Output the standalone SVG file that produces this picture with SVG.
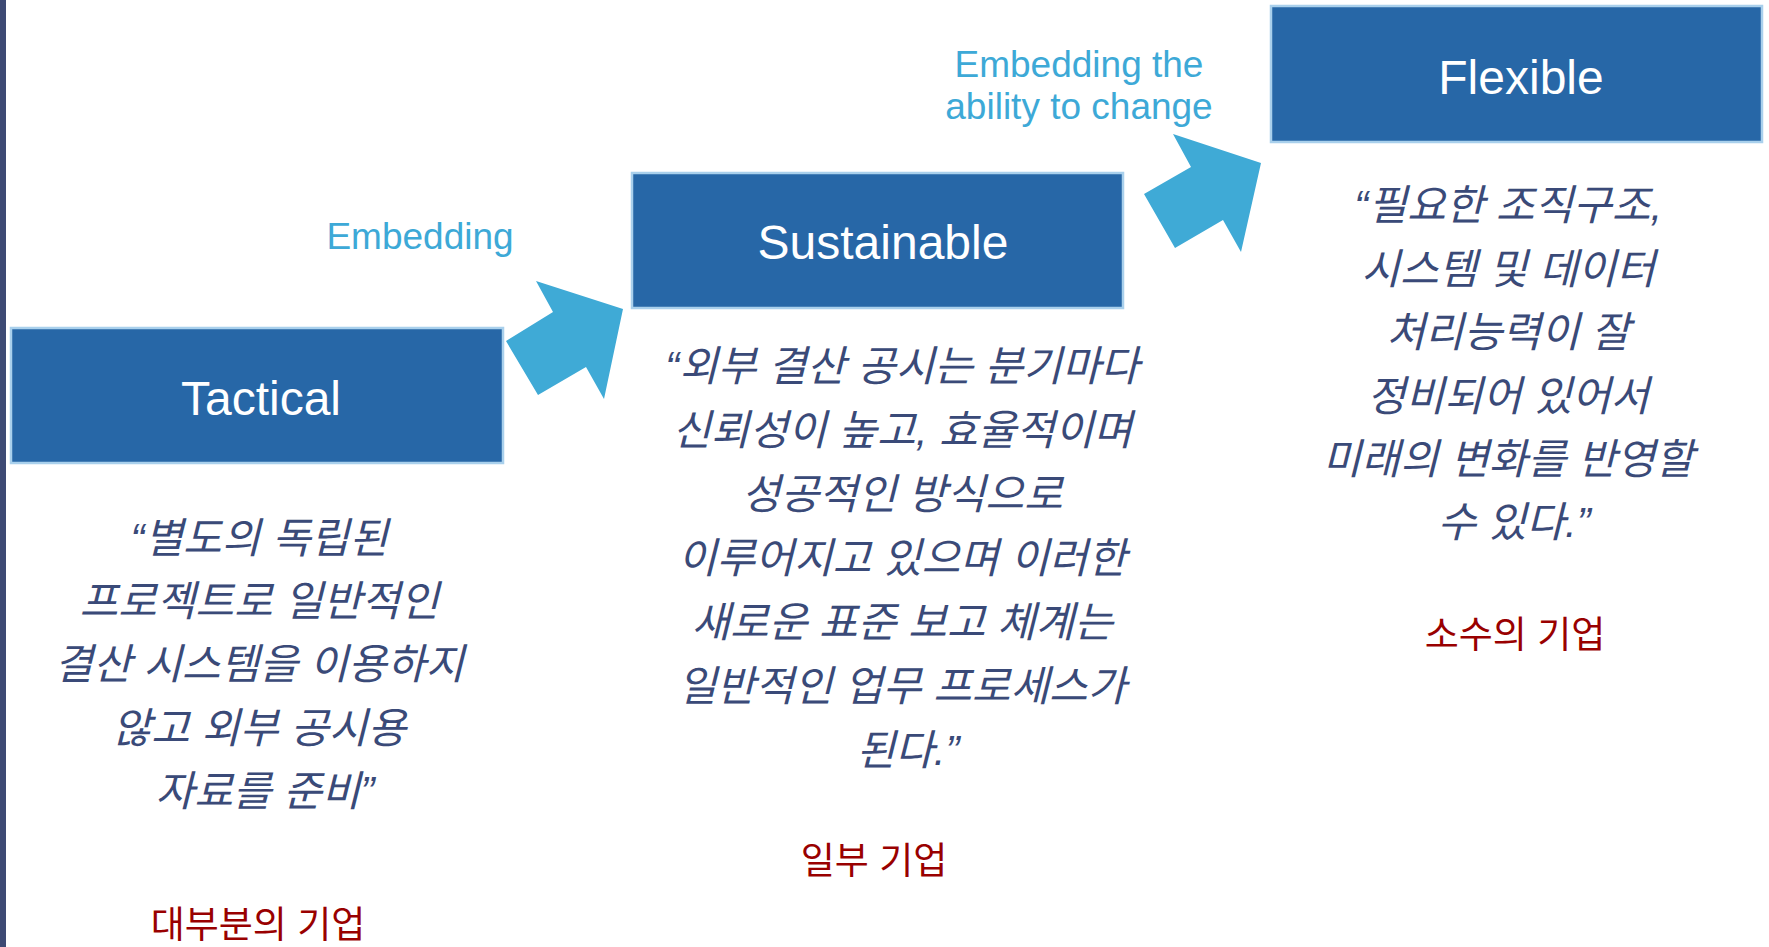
<svg xmlns="http://www.w3.org/2000/svg" width="1769" height="947" viewBox="0 0 1769 947">
<style>
.box{fill:#2767A7;stroke:#A9D0EC;stroke-width:2.5}
.title{font-family:"Liberation Sans",Arial,sans-serif;font-size:48px;fill:#FFFFFF;text-anchor:middle}
.quote{font-family:"Liberation Sans","Noto Sans CJK KR",sans-serif;font-size:42px;font-style:italic;fill:#3A4A78;text-anchor:middle}
.who{font-family:"Liberation Sans","Noto Sans CJK KR",sans-serif;font-size:37px;fill:#990000;text-anchor:middle}
.lbl{font-family:"Liberation Sans",Arial,sans-serif;font-size:37px;fill:#3DA9D7;text-anchor:middle}
.arrow{fill:#3FAAD6}
</style>
<rect x="0" y="0" width="1769" height="947" fill="#FFFFFF"/>
<rect x="0" y="0" width="6" height="947" fill="#3D4A74"/>

<g id="connectors">
<polygon class="arrow" points="506,341 553,312 536,281 623,309 604,399 586,367 538,395"/>
<polygon class="arrow" points="1144,194 1191,167 1173,134 1261,163 1241,252 1223,220 1175,248"/>
<text class="lbl" x="420" y="249">Embedding</text>
<text class="lbl" x="1079" y="77">Embedding the</text>
<text class="lbl" x="1079" y="119">ability to change</text>
</g>

<g id="tactical">
<rect class="box" x="11" y="328" width="492" height="135"/>
<text class="title" x="261" y="415">Tactical</text>
<text class="quote">
<tspan x="265" y="553">“별도의 독립된</tspan>
<tspan x="265" y="616">프로젝트로 일반적인</tspan>
<tspan x="265" y="679">결산 시스템을 이용하지</tspan>
<tspan x="265" y="743">않고 외부 공시용</tspan>
<tspan x="265" y="806">자료를 준비”</tspan>
</text>
<text class="who" x="258" y="938">대부분의 기업</text>
</g>

<g id="sustainable">
<rect class="box" x="632" y="173" width="491" height="135"/>
<text class="title" x="883" y="259">Sustainable</text>
<text class="quote">
<tspan x="908" y="381">“외부 결산 공시는 분기마다</tspan>
<tspan x="908" y="445">신뢰성이 높고, 효율적이며</tspan>
<tspan x="908" y="509">성공적인 방식으로</tspan>
<tspan x="908" y="573">이루어지고 있으며 이러한</tspan>
<tspan x="908" y="637">새로운 표준 보고 체계는</tspan>
<tspan x="908" y="701">일반적인 업무 프로세스가</tspan>
<tspan x="908" y="765">된다.”</tspan>
</text>
<text class="who" x="874" y="874">일부 기업</text>
</g>

<g id="flexible">
<rect class="box" x="1271" y="6" width="491" height="136"/>
<text class="title" x="1521" y="94">Flexible</text>
<text class="quote">
<tspan x="1514" y="220">“필요한 조직구조,</tspan>
<tspan x="1514" y="284">시스템 및 데이터</tspan>
<tspan x="1514" y="347">처리능력이 잘</tspan>
<tspan x="1514" y="411">정비되어 있어서</tspan>
<tspan x="1514" y="474">미래의 변화를 반영할</tspan>
<tspan x="1514" y="537">수 있다.”</tspan>
</text>
<text class="who" x="1515" y="648">소수의 기업</text>
</g>
</svg>
